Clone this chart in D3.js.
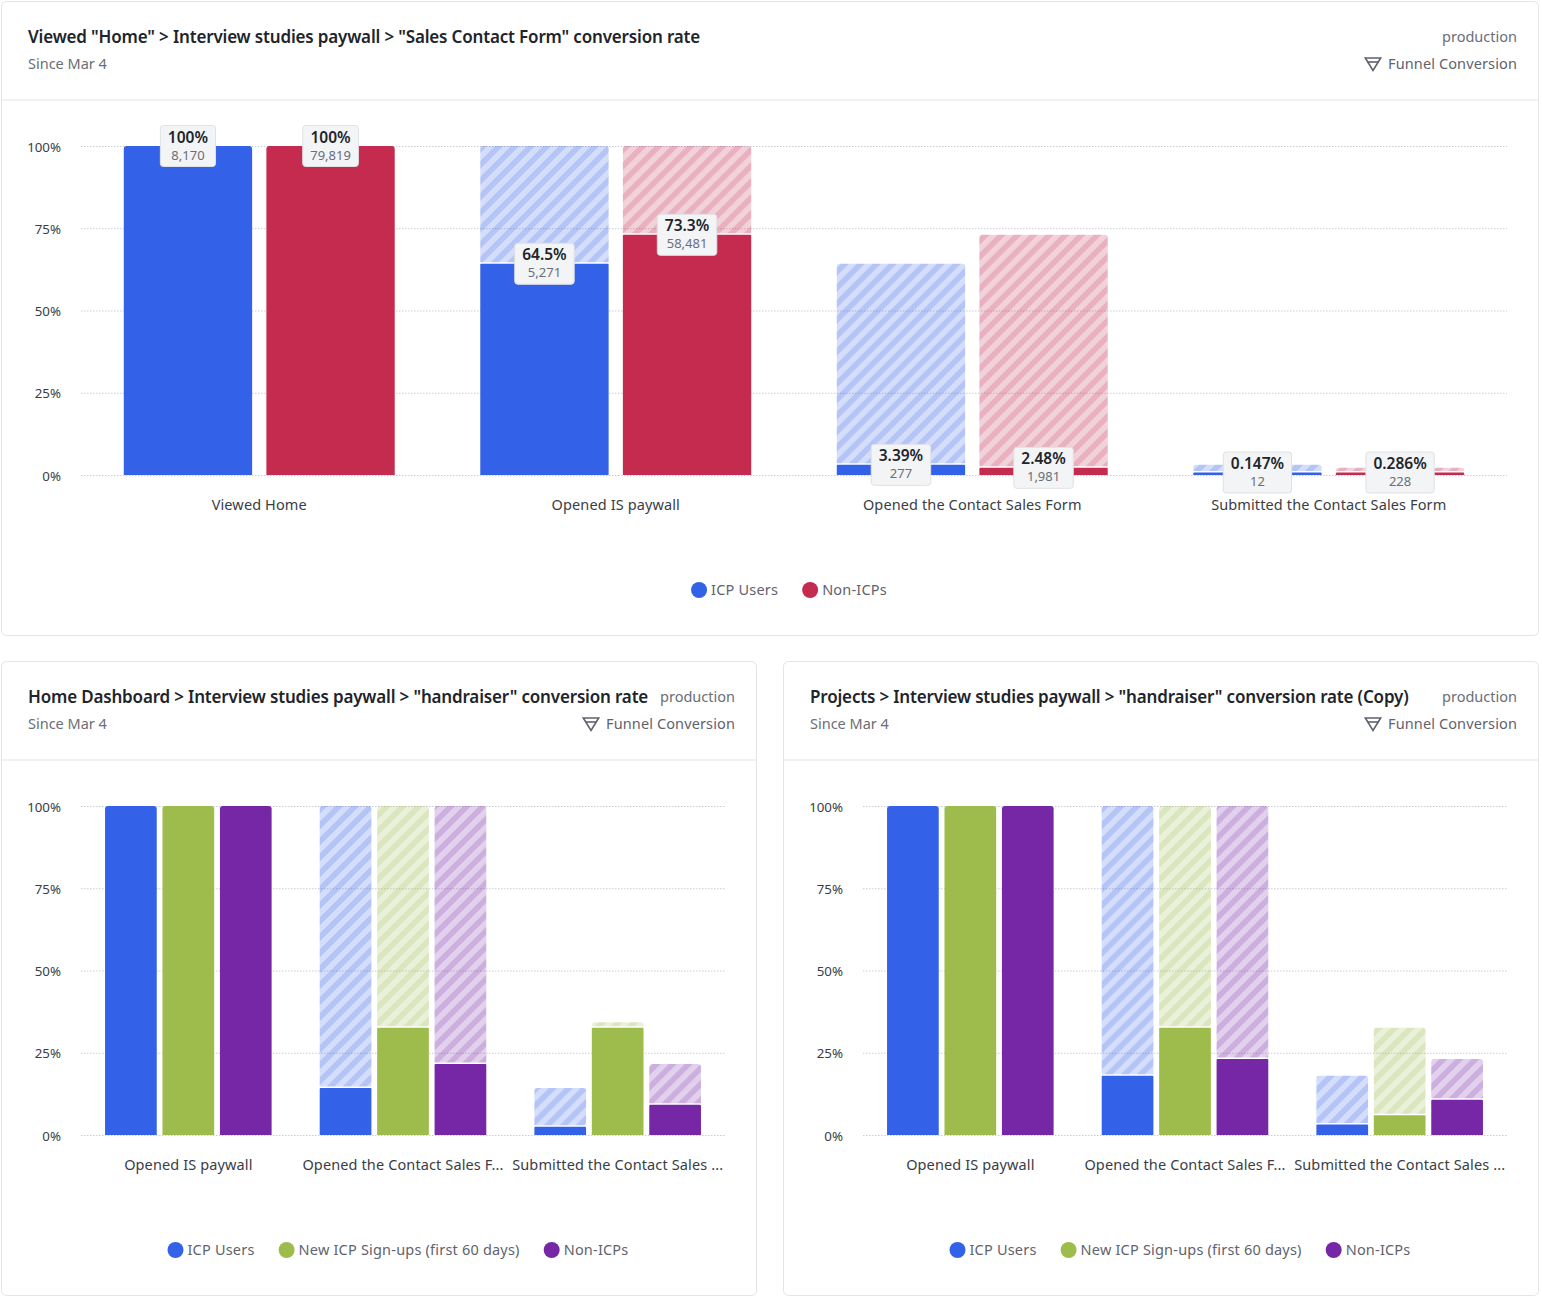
<!DOCTYPE html>
<html>
<head>
<meta charset="utf-8">
<script src="https://cdn.jsdelivr.net/npm/d3@7"></script>
<style>
  body { margin: 0; background: #fff; }
  text { font-family: "Noto Sans", sans-serif; }
</style>
</head>
<body>
<svg id="chart" width="1542" height="1298"></svg>
<script>
// Series names and colours
const icpName = "ICP Users";
const newName = "New ICP Sign-ups (first 60 days)";
const nonName = "Non-ICPs";
const seriesColors = { [icpName]: "#3361e8", [newName]: "#9dbc4c", [nonName]: "#c42b4f" };
const purple = "#7527a5";

// Top chart
const topSteps = ["Viewed Home", "Opened IS paywall", "Opened the Contact Sales Form", "Submitted the Contact Sales Form"];
const topIcp = [100, 64.5, 3.39, 0.147];
const topIcpGhost = [100, 100, 64.5, 3.39];
const topIcpCounts = ["8,170", "5,271", "277", "12"];
const topIcpLabels = ["100%", "64.5%", "3.39%", "0.147%"];
const topNon = [100, 73.3, 2.48, 0.286];
const topNonGhost = [100, 100, 73.3, 2.48];
const topNonCounts = ["79,819", "58,481", "1,981", "228"];
const topNonLabels = ["100%", "73.3%", "2.48%", "0.286%"];

// Bottom charts
const smallSteps = ["Opened IS paywall", "Opened the Contact Sales F...", "Submitted the Contact Sales ..."];

const leftIcp = [100, 14.6, 2.8];
const leftIcpGhost = [100, 100, 14.6];
const leftNew = [100, 32.9, 32.9];
const leftNewGhost = [100, 100, 34.6];
const leftNon = [100, 21.9, 9.5];
const leftNonGhost = [100, 100, 21.9];

const rightIcp = [100, 18.3, 3.5];
const rightIcpGhost = [100, 100, 18.3];
const rightNew = [100, 32.9, 6.3];
const rightNewGhost = [100, 100, 32.9];
const rightNon = [100, 23.4, 11];
const rightNonGhost = [100, 100, 23.4];

const yTicks = [0, 25, 50, 75, 100];

const svg = d3.select("#chart");
const defs = svg.append("defs");

// striped fill for the "previous step" part of each bar
function makePattern(id, color) {
    const p = defs.append("pattern")
        .attr("id", id)
        .attr("patternUnits", "userSpaceOnUse")
        .attr("width", 11.3)
        .attr("height", 11.3)
        .attr("patternTransform", "rotate(45)");
    p.append("rect").attr("width", 11.3).attr("height", 11.3).attr("fill", color).attr("opacity", 0.21);
    p.append("rect").attr("width", 5.6).attr("height", 11.3).attr("fill", color).attr("opacity", 0.2);
}

function topRounded(x, y, w, h, r) {
    r = Math.min(r, h);
    return `M${x},${y + h}V${y + r}Q${x},${y} ${x + r},${y}H${x + w - r}Q${x + w},${y} ${x + w},${y + r}V${y + h}Z`;
}

function funnelIcon(g, x, y) {
    const f = g.append("g").attr("transform", `translate(${x},${y})`)
        .attr("fill", "none").attr("stroke", "#5f636d").attr("stroke-width", 1.6);
    f.append("path").attr("d", "M0.8,1 H16.2 L8.5,13.4 Z");
    f.append("path").attr("d", "M3,5 H14");
}

function drawChart(opts) {
    const { x, y, width, height, title, steps, series, plotLeft, plotRight, outer, showLabels } = opts;
    const g = svg.append("g").attr("transform", `translate(${x},${y})`);

    g.append("rect")
        .attr("x", 0.5).attr("y", 0.5)
        .attr("width", width).attr("height", height)
        .attr("rx", 5)
        .attr("fill", "#fff")
        .attr("stroke", "#e3e5e8");
    g.append("line")
        .attr("x1", 1).attr("x2", width)
        .attr("y1", 99).attr("y2", 99)
        .attr("stroke", "#e3e5e8");

    // header
    g.append("text").attr("x", 27).attr("y", 42)
        .attr("font-size", 17).attr("font-weight", 600).attr("fill", "#21242b")
        .attr("letter-spacing", -0.17)
        .text(title);
    g.append("text").attr("x", 27).attr("y", 68)
        .attr("font-size", 14.5).attr("fill", "#6a6e78").text("Since Mar 4");
    g.append("text").attr("x", width - 21).attr("y", 41)
        .attr("text-anchor", "end").attr("font-size", 14.5).attr("fill", "#6a6e78").text("production");
    g.append("text").attr("x", width - 21).attr("y", 68)
        .attr("text-anchor", "end").attr("font-size", 14.5).attr("letter-spacing", 0.12)
        .attr("fill", "#5f636d").text("Funnel Conversion");
    funnelIcon(g, width - 173.5, 56);

    // scales
    const yScale = d3.scaleLinear().domain([0, 100]).range([474, 145]);
    const x0 = d3.scaleBand().domain(steps).range([plotLeft, plotRight]);
    const x1 = d3.scaleBand()
        .domain(series.map(s => s.name))
        .range([x0.bandwidth() * outer, x0.bandwidth() * (1 - outer)])
        .paddingInner(0.1);

    // y axis with dotted grid
    const yAxis = g.append("g")
        .attr("transform", `translate(${plotLeft},0)`)
        .call(d3.axisLeft(yScale).tickValues(yTicks).tickFormat(d => d + "%")
            .tickSize(-(plotRight - plotLeft)).tickPadding(20));
    yAxis.select(".domain").remove();
    yAxis.selectAll("line").attr("stroke", "#c9ccd2").attr("stroke-dasharray", "1.5,1.5");
    yAxis.selectAll("text").attr("font-size", 13.3).attr("fill", "#3a3d45").attr("dy", "0.38em")
        .style("font-family", '"Noto Sans", sans-serif');

    // x axis
    const xAxis = g.append("g")
        .attr("transform", `translate(0,${yScale(0)})`)
        .call(d3.axisBottom(x0).tickSize(0).tickPadding(25));
    xAxis.select(".domain").remove();
    xAxis.selectAll("text").attr("font-size", 14.5).attr("letter-spacing", 0.12).attr("fill", "#3a3d45")
        .style("font-family", '"Noto Sans", sans-serif');

    // the top edge of a partial bar sits just under its white separator
    const topOf = v => yScale(v) + (v < 100 ? 1 : 0);

    // bars
    const labels = [];
    series.forEach(s => {
        defs.select("#" + s.id).empty() && makePattern(s.id, s.color);
        steps.forEach((step, i) => {
            const bx = x0(step) + x1(s.name);
            const bw = x1.bandwidth();
            const base = yScale(0);
            const ghostTop = topOf(s.ghost[i]);
            // small values still get a visible sliver
            const solidTop = Math.min(topOf(s.values[i]), base - 2.5);
            if (s.ghost[i] > s.values[i]) {
                g.append("path")
                    .attr("d", topRounded(bx, ghostTop, bw, solidTop - ghostTop - 1.5, 3))
                    .attr("fill", `url(#${s.id})`);
            }
            g.append("path")
                .attr("d", topRounded(bx, solidTop, bw, base - solidTop, s.values[i] == s.ghost[i] || i == 0 ? 3 : 1))
                .attr("fill", s.color);
            if (showLabels) {
                labels.push({ cx: bx + bw / 2, cy: solidTop, pct: s.labels[i], count: s.counts[i] });
            }
        });
    });

    // value boxes go over every bar
    labels.forEach(d => {
        const b = g.append("g").attr("transform", `translate(${d.cx},${d.cy})`);
        const r = b.append("rect");
        const t1 = b.append("text").attr("text-anchor", "middle").attr("y", -3.5)
            .attr("font-size", 15.5).attr("font-weight", 600).attr("fill", "#21242b").text(d.pct);
        const t2 = b.append("text").attr("text-anchor", "middle").attr("y", 13.5)
            .attr("font-size", 13).attr("fill", "#6a6e78").text(d.count);
        const w = Math.max(t1.node().getComputedTextLength(), t2.node().getComputedTextLength()) + 15;
        r.attr("x", -w / 2).attr("y", -20.5).attr("width", w).attr("height", 41)
            .attr("rx", 3).attr("fill", "#f3f4f6").attr("stroke", "#dfe1e5");
    });

    // legend, a bit right of the card's centre
    const legend = g.append("g");
    let lx = 0;
    series.forEach(s => {
        const item = legend.append("g").attr("transform", `translate(${lx},0)`);
        item.append("circle").attr("cx", 8).attr("cy", 0).attr("r", 8).attr("fill", s.color);
        const t = item.append("text").attr("x", 20).attr("y", 5)
            .attr("font-size", 14.5).attr("letter-spacing", 0.2).attr("fill", "#5f636d").text(s.name);
        lx += 20 + t.node().getComputedTextLength() + 24;
    });
    lx -= 24;
    legend.attr("transform", `translate(${width / 2 - lx / 2 + 19.5},589)`);
}

drawChart({
    x: 1, y: 1, width: 1537, height: 634,
    title: 'Viewed "Home" > Interview studies paywall > "Sales Contact Form" conversion rate',
    steps: topSteps, plotLeft: 80, plotRight: 1506, outer: 0.12, showLabels: true,
    series: [
        { name: icpName, id: "stripe-icp", color: seriesColors[icpName], values: topIcp, ghost: topIcpGhost, labels: topIcpLabels, counts: topIcpCounts },
        { name: nonName, id: "stripe-non", color: seriesColors[nonName], values: topNon, ghost: topNonGhost, labels: topNonLabels, counts: topNonCounts }
    ]
});

drawChart({
    x: 1, y: 661, width: 755, height: 634,
    title: 'Home Dashboard > Interview studies paywall > "handraiser" conversion rate',
    steps: smallSteps, plotLeft: 80, plotRight: 724, outer: 0.112, showLabels: false,
    series: [
        { name: icpName, id: "stripe-icp", color: seriesColors[icpName], values: leftIcp, ghost: leftIcpGhost },
        { name: newName, id: "stripe-new", color: seriesColors[newName], values: leftNew, ghost: leftNewGhost },
        { name: nonName, id: "stripe-purple", color: purple, values: leftNon, ghost: leftNonGhost }
    ]
});

drawChart({
    x: 783, y: 661, width: 755, height: 634,
    title: 'Projects > Interview studies paywall > "handraiser" conversion rate (Copy)',
    steps: smallSteps, plotLeft: 80, plotRight: 724, outer: 0.112, showLabels: false,
    series: [
        { name: icpName, id: "stripe-icp", color: seriesColors[icpName], values: rightIcp, ghost: rightIcpGhost },
        { name: newName, id: "stripe-new", color: seriesColors[newName], values: rightNew, ghost: rightNewGhost },
        { name: nonName, id: "stripe-purple", color: purple, values: rightNon, ghost: rightNonGhost }
    ]
});
</script>
</body>
</html>
